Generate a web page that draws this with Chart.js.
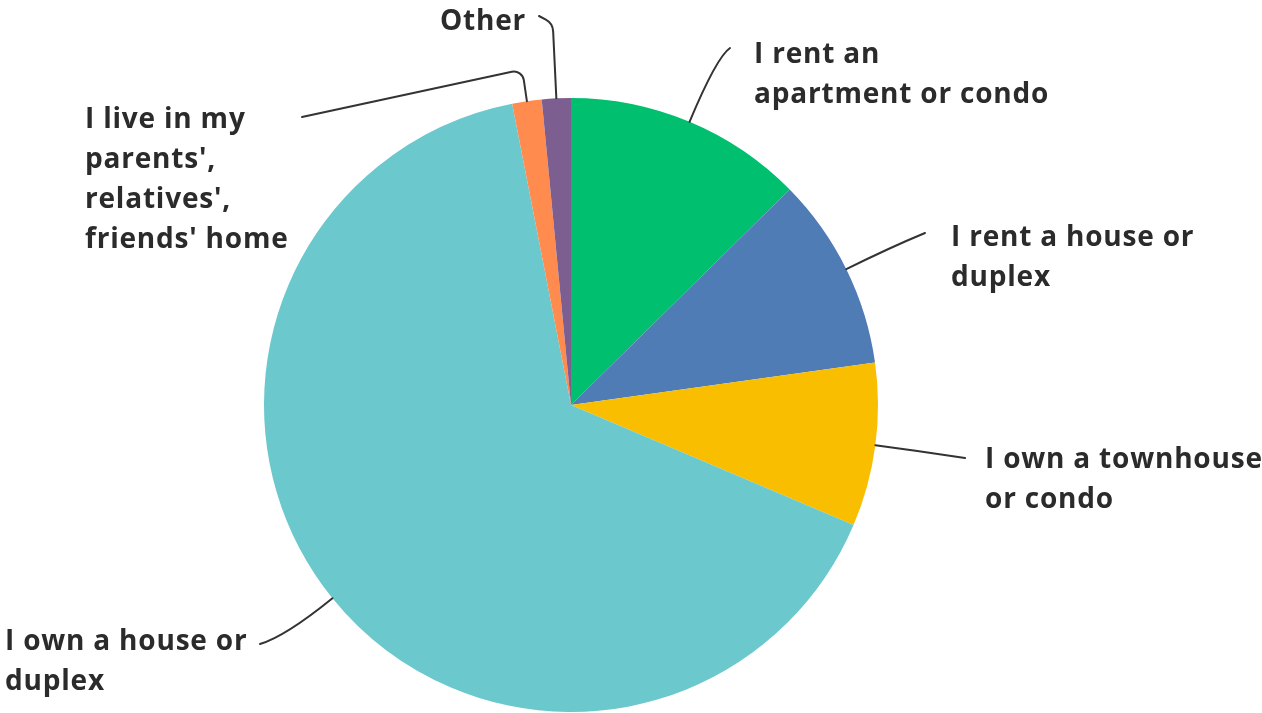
<!DOCTYPE html>
<html>
<head>
<meta charset="utf-8">
<script src="https://cdn.jsdelivr.net/npm/chart.js@4"></script>
<style>
  html, body { margin: 0; padding: 0; background: #fff; }
  canvas { display: block; }
</style>
</head>
<body>
<canvas id="housingPie" width="1262" height="713"></canvas>
<script>
// Housing situation pie — slices run clockwise from 12 o'clock.
var categories = [
  "I rent an apartment or condo",
  "I rent a house or duplex",
  "I own a townhouse or condo",
  "I own a house or duplex",
  "I live in my parents', relatives', friends' home",
  "Other"
];
var shares = [12.62, 10.17, 8.61, 65.54, 1.55, 1.52]; // percent of respondents
var sliceColors = ['#00BF6F', '#507CB6', '#F9BE00', '#6BC8CD', '#FF8B4F', '#7D5E90'];

// how each label wraps on the page
var labelLines = [
  ["I rent an", "apartment or condo"],
  ["I rent a house or", "duplex"],
  ["I own a townhouse", "or condo"],
  ["I own a house or", "duplex"],
  ["I live in my", "parents',", "relatives',", "friends' home"],
  ["Other"]
];

// label placement + leader line shape (layout only)
// tx,ty = first baseline; ex,ey = leader end; len = run out from the arc; corner = elbow radius
var labelLayout = [
  { tx: 754, ty: 63,  ex: 730, ey: 48,  len: 70 },
  { tx: 951, ty: 246, ex: 925, ey: 233, len: 50 },
  { tx: 985, ty: 468, ex: 965, ey: 458, len: 45 },
  { tx: 5,   ty: 650, ex: 260, ey: 644, len: 61 },
  { tx: 85,  ty: 128, ex: 302, ey: 117, len: 32, corner: 10 },
  { tx: 440, ty: 30,  ex: 539, ey: 16,  len: 75, corner: 14 }
];

var LABEL_FONT = '700 28px "Open Sans"';
var LINE_GAP = 40;

var sideLabels = {
  id: 'sideLabels',
  afterDatasetsDraw: function(chart) {
    var ctx = chart.ctx;
    var arcs = chart.getDatasetMeta(0).data;
    ctx.save();
    ctx.strokeStyle = '#333';
    ctx.lineWidth = 2;
    ctx.lineCap = 'round';
    arcs.forEach(function(arc, i) {
      var p = arc.getProps(['x', 'y', 'startAngle', 'endAngle', 'outerRadius'], true);
      var mid = (p.startAngle + p.endAngle) / 2;
      var cx = Math.cos(mid), cy = Math.sin(mid);
      var sx = p.x + cx * p.outerRadius, sy = p.y + cy * p.outerRadius;
      var lay = labelLayout[i];
      var kx = sx + cx * lay.len, ky = sy + cy * lay.len;
      ctx.beginPath();
      ctx.moveTo(sx, sy);
      if (lay.corner) {
        ctx.arcTo(kx, ky, lay.ex, lay.ey, lay.corner);
        ctx.lineTo(lay.ex, lay.ey);
      } else {
        ctx.quadraticCurveTo(kx, ky, lay.ex, lay.ey);
      }
      ctx.stroke();

      ctx.fillStyle = '#2b2b2b';
      ctx.font = LABEL_FONT;
      ctx.letterSpacing = '0.8px';
      ctx.textAlign = 'left';
      ctx.textBaseline = 'alphabetic';
      labelLines[i].forEach(function(line, j) {
        ctx.fillText(line, lay.tx, lay.ty + j * LINE_GAP);
      });
    });
    ctx.restore();
  }
};

function drawChart() {
  new Chart(document.getElementById('housingPie'), {
    type: 'pie',
    data: {
      labels: categories,
      datasets: [{
        data: shares,
        backgroundColor: sliceColors,
        borderWidth: 0
      }]
    },
    options: {
      responsive: false,
      animation: false,
      layout: { padding: { left: 264, right: 384, top: 97, bottom: 0 } },
      plugins: {
        legend: { display: false },
        tooltip: { enabled: false }
      }
    },
    plugins: [sideLabels]
  });
}

document.fonts.load(LABEL_FONT).then(drawChart, drawChart);
</script>
</body>
</html>
